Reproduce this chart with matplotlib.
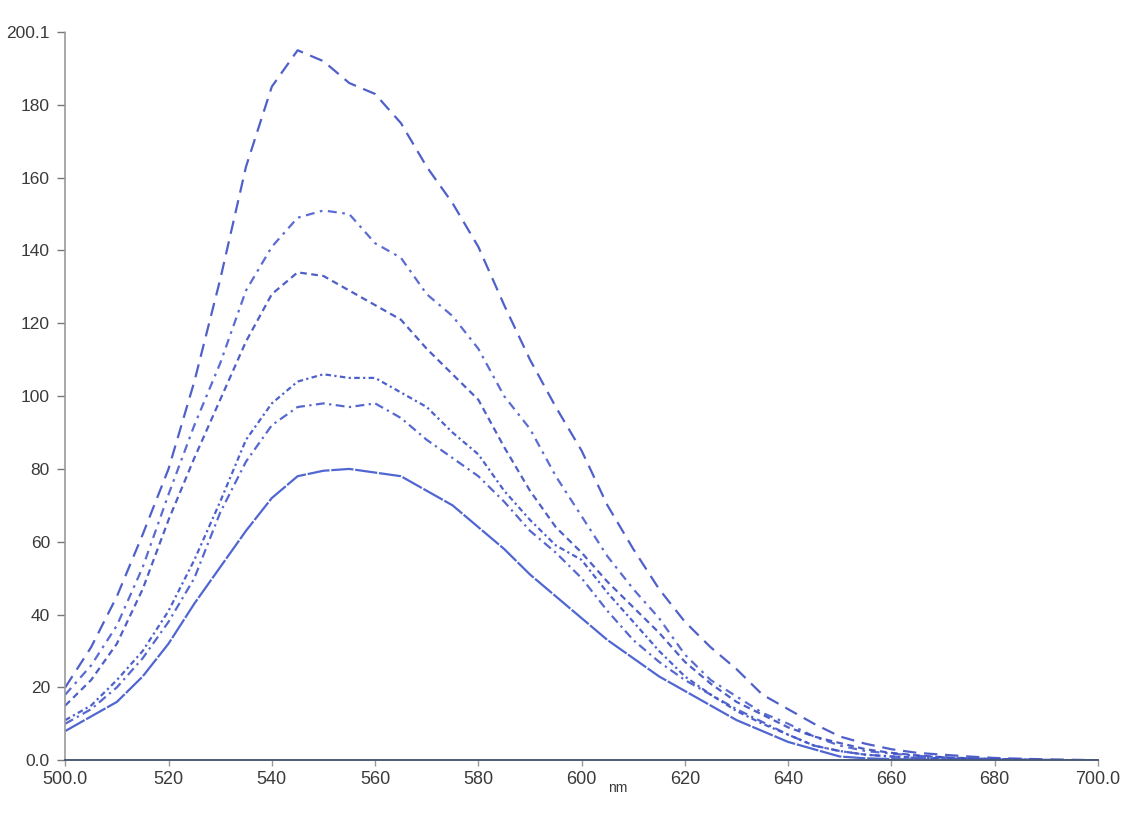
import matplotlib
matplotlib.use("Agg")
import matplotlib.pyplot as plt

wavelength = [500, 505, 510, 515, 520, 525, 530, 535, 540, 545, 550, 555, 560, 565, 570,
              575, 580, 585, 590, 595, 600, 605, 610, 615, 620, 625, 630, 635, 640, 645,
              650, 655, 660, 665, 670, 675, 680, 685, 690, 695, 700]

series_a = [20, 31, 45, 62, 80, 104, 132, 163, 185, 195, 192, 186, 183, 175, 163,
            153, 141, 125, 110, 97, 85, 70, 58, 47, 38, 31, 25, 18, 14, 10,
            6.5, 4.5, 3, 2, 1.5, 1, 0.6, 0.4, 0.2, 0.1, 0]
series_b = [18, 26, 37, 53, 73, 92, 109, 129, 141, 149, 151, 150, 142, 138, 128,
            122, 113, 100, 91, 78, 67, 56, 47, 39, 29, 22, 17.5, 13, 10, 6.5,
            4, 2.5, 1.8, 1.2, 0.8, 0.5, 0.3, 0.2, 0.1, 0, 0]
series_c = [15, 22, 32, 47, 66, 83, 99, 115, 128, 134, 133, 129, 125, 121, 113,
            106, 99, 86, 74, 64, 57, 49, 42, 35, 27, 21, 16, 12.5, 9, 6.5,
            4.7, 3, 2, 1.3, 0.8, 0.5, 0.3, 0.2, 0.1, 0, 0]
series_d = [11, 15, 22, 30, 41, 55, 71, 88, 98, 104, 106, 105, 105, 101, 97,
            90, 84, 74, 66, 59, 55, 46, 38, 30, 23, 18, 13.5, 10, 7, 4,
            2.5, 1.5, 1, 0.7, 0.5, 0.3, 0.2, 0.1, 0, 0, 0]
series_e = [10, 14, 20, 28, 38, 50, 68, 82, 92, 97, 98, 97, 98, 94, 88,
            83, 78, 71, 63, 57, 50, 41, 33, 27, 22, 18, 14, 10.5, 7, 4,
            2.5, 1.5, 1, 0.6, 0.4, 0.3, 0.2, 0.1, 0, 0, 0]
series_f = [8, 12, 16, 23, 32, 43, 53, 63, 72, 78, 79.5, 80, 79, 78, 74,
            70, 64, 58, 51, 45, 39, 33, 28, 23, 19, 15, 11, 8, 5, 3,
            1, 0.5, 0.3, 0.2, 0.1, 0, 0, 0, 0, 0, 0]

x_ticks = [500, 520, 540, 560, 580, 600, 620, 640, 660, 680, 700]
x_labels = ["500.0", "520", "540", "560", "580", "600", "620", "640", "660", "680", "700.0"]
y_ticks = [0, 20, 40, 60, 80, 100, 120, 140, 160, 180, 200.1]
y_labels = ["0.0", "20", "40", "60", "80", "100", "120", "140", "160", "180", "200.1"]

plt.rcParams['font.family'] = ['Liberation Sans', 'DejaVu Sans']

fig = plt.figure(figsize=(11.25, 8.13), dpi=100)
ax = fig.add_axes([0.058, 0.065, 0.918, 0.896])

styles = [
    (series_a, (0, (6, 3.5)), "#3d4fc4"),
    (series_b, (0, (4, 2.5, 1.2, 2.5)), "#4a5ccc"),
    (series_c, (0, (3, 2)), "#3b4dc0"),
    (series_d, (0, (2.5, 1.5, 1, 1.5)), "#3a50c8"),
    (series_e, (0, (4, 2, 1, 2)), "#4458c8"),
    (series_f, (0, (10, 0.8)), "#3d55cc"),
]
for ys, ls, col in styles:
    ax.plot(wavelength, ys, linestyle=ls, color=col, linewidth=1.6, alpha=0.9)

ax.set_xlim(500, 700)
ax.set_ylim(0, 200.1)
ax.set_xticks(x_ticks)
ax.set_xticklabels(x_labels)
ax.set_yticks(y_ticks)
ax.set_yticklabels(y_labels)

for s in ["top", "right"]:
    ax.spines[s].set_visible(False)
ax.spines["left"].set_linestyle((0, (1.5, 1)))
ax.spines["left"].set_color("#999999")
ax.spines["left"].set_linewidth(1.2)
ax.spines["bottom"].set_color("#4a5a78")
ax.spines["bottom"].set_linewidth(1.4)

ax.tick_params(axis="y", direction="out", length=6, width=1, color="#777777",
               labelsize=12.5, labelcolor="#3a3a3a", pad=5)
ax.tick_params(axis="x", direction="out", length=4, width=1, color="#999999",
               labelsize=13, labelcolor="#3a3a3a", pad=4)

ax.text(607, -5.8, "nm", fontsize=10, color="#3a3a3a", ha="center", va="top")

fig.savefig("out.png", dpi=100, facecolor="white")
